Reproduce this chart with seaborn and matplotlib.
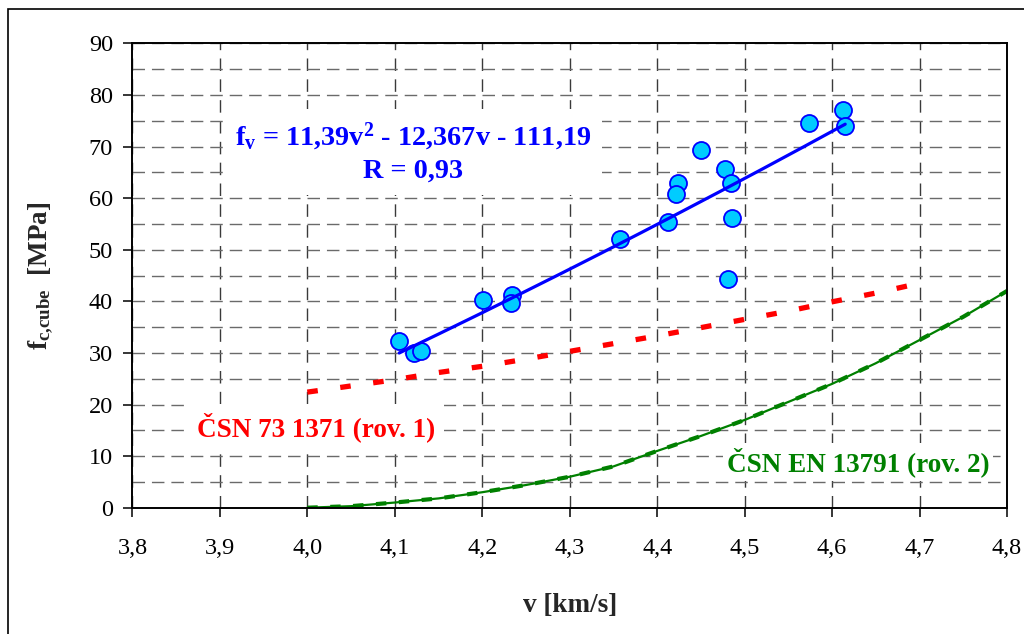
import numpy as np
import pandas as pd
import matplotlib
matplotlib.use("Agg")
import matplotlib.pyplot as plt
from matplotlib.patches import Rectangle
from matplotlib.ticker import FixedLocator, MultipleLocator, NullLocator
import seaborn as sns

# Measured samples: ultrasonic pulse velocity [km/s] vs. cube strength [MPa]
velocity = [4.612, 4.615, 4.574, 4.450, 4.478, 4.484, 4.424, 4.421, 4.486,
            4.412, 4.358, 4.481, 4.201, 4.234, 4.233, 4.105, 4.122, 4.130]
strength = [77.1, 74.0, 74.5, 69.3, 65.6, 62.9, 63.0, 60.8, 56.2,
            55.4, 52.0, 44.3, 40.2, 41.2, 39.6, 32.4, 29.9, 30.4]

# Quadratic regression f_v = a*v^2 + b*v + c and its velocity span
fit_coefs = [11.39, -12.367, -111.19]
fit_span = [4.105, 4.615]

# CSN 73 1371 (eq. 1) curve
csn_v = [4.00, 4.05, 4.10, 4.15, 4.20, 4.25, 4.30, 4.35, 4.40, 4.45, 4.50,
         4.55, 4.60, 4.65, 4.70]
csn_f = [22.4, 23.6, 24.8, 26.2, 27.4, 28.8, 30.3, 31.8, 33.3, 34.9, 36.5,
         38.1, 39.9, 41.6, 43.5]

# CSN EN 13791 (eq. 2) curve
en_v = [4.00, 4.05, 4.10, 4.15, 4.20, 4.25, 4.30, 4.35, 4.40, 4.45, 4.50,
        4.55, 4.60, 4.65, 4.70, 4.75, 4.80]
en_f = [0.0, 0.3, 1.0, 1.8, 3.0, 4.4, 6.0, 8.0, 11.0, 13.9, 17.0,
        20.5, 24.0, 28.0, 32.5, 37.0, 42.0]

x_ticks = [3.8, 3.9, 4.0, 4.1, 4.2, 4.3, 4.4, 4.5, 4.6, 4.7, 4.8]
x_labels = ["3,8", "3,9", "4,0", "4,1", "4,2", "4,3", "4,4", "4,5", "4,6", "4,7", "4,8"]
y_ticks = [0, 10, 20, 30, 40, 50, 60, 70, 80, 90]

sns.set_style("white")
plt.rcParams["font.family"] = ["Liberation Serif", "DejaVu Serif"]
plt.rcParams["mathtext.fontset"] = "custom"
plt.rcParams["mathtext.rm"] = "Liberation Serif"
plt.rcParams["mathtext.bf"] = "Liberation Serif:bold"
plt.rcParams["mathtext.it"] = "Liberation Serif:italic"

fig = plt.figure(figsize=(10.24, 6.34), dpi=100)
fig.patch.set_facecolor("white")
ax = fig.add_axes([0.1293, 0.1992, 0.8541, 0.7325])
ax.set_facecolor("white")

samples = pd.DataFrame({"v": velocity, "f": strength})
fit_v = np.linspace(fit_span[0], fit_span[1], 200)
fit = pd.DataFrame({"v": fit_v, "f": np.polyval(fit_coefs, fit_v)})
csn = pd.DataFrame({"v": csn_v, "f": csn_f})
en = pd.DataFrame({"v": en_v, "f": en_f})

# standard curves
sns.lineplot(data=en, x="v", y="f", ax=ax, color="#008000", lw=1.6,
             estimator=None, sort=False, zorder=2)
sns.lineplot(data=en, x="v", y="f", ax=ax, color="#008000", lw=3.0,
             estimator=None, sort=False, zorder=2,
             linestyle=(0, (2.5, 3.0)), dash_capstyle="butt")
sns.lineplot(data=csn, x="v", y="f", ax=ax, color="#FF0000", lw=3.8,
             estimator=None, sort=False, zorder=2,
             linestyle=(0, (2.0, 4.3)), dash_capstyle="butt")

# measured points and regression
sns.scatterplot(data=samples, x="v", y="f", ax=ax, s=150, color="#00CCFF",
                edgecolor="#0000FF", linewidth=1.3, zorder=3)
sns.lineplot(data=fit, x="v", y="f", ax=ax, color="#0000FF", lw=2.3,
             estimator=None, sort=False, zorder=4)

ax.set_xlim(3.8, 4.8)
ax.set_ylim(0, 90)
ax.xaxis.set_major_locator(FixedLocator(x_ticks))
ax.set_xticklabels(x_labels)
ax.yaxis.set_major_locator(FixedLocator(y_ticks))
ax.yaxis.set_minor_locator(MultipleLocator(5))
ax.xaxis.set_minor_locator(NullLocator())

ax.set_axisbelow(True)
ax.grid(True, axis="y", which="both", color="#6a6a6a", lw=1.0,
        linestyle=(0, (9, 5)))
ax.grid(True, axis="x", which="major", color="#3a3a3a", lw=1.0,
        linestyle=(0, (9, 6)))

for s in ax.spines.values():
    s.set_visible(True)
    s.set_color("black")
    s.set_linewidth(1.4)

ax.tick_params(axis="both", which="major", direction="out", length=6.5,
               width=1.1, color="black", labelsize=17.5, labelcolor="black")
ax.tick_params(axis="x", which="major", pad=15, bottom=True)
ax.tick_params(axis="y", which="major", pad=7.5, left=True)
ax.tick_params(axis="y", which="minor", length=0)

ax.set_xlabel("v [km/s]", fontsize=19.5, fontweight="bold")
ax.xaxis.set_label_coords(0.5, -0.2095)
ax.xaxis.label.set_verticalalignment("center")
ax.set_ylabel(r"$\mathbf{f}_{\mathbf{c{,}cube}}$  [MPa]", fontsize=19.5,
              fontweight="bold")
ax.yaxis.set_label_coords(-0.1045, 0.5)
ax.yaxis.label.set_verticalalignment("center")

ax.text(4.121, 68.8,
        "f$_{\\mathbf{v}}$ = 11,39v$^{\\mathbf{2}}$ - 12,367v - 111,19\nR = 0,93",
        ha="center", va="center", multialignment="center", color="#0000FF",
        fontsize=20.3, fontweight="bold", linespacing=1.3, zorder=6,
        bbox=dict(facecolor="white", edgecolor="none", pad=8))
ax.text(4.010, 15.6, "ČSN 73 1371 (rov. 1)", ha="center", va="center",
        color="#FF0000", fontsize=19.5, fontweight="bold", zorder=6,
        bbox=dict(facecolor="white", edgecolor="none", pad=6))
ax.text(4.6296, 8.9, "ČSN EN 13791 (rov. 2)", ha="center", va="center",
        color="#008000", fontsize=19.5, fontweight="bold", zorder=6,
        bbox=dict(facecolor="white", edgecolor="none", pad=3))

# chart-area frame
fig.add_artist(Rectangle((8 / 1024, -0.1), 1.2, 1.1 - 9 / 634,
                         transform=fig.transFigure, fill=False,
                         edgecolor="black", lw=1.2))

fig.savefig("out.png", dpi=100)
